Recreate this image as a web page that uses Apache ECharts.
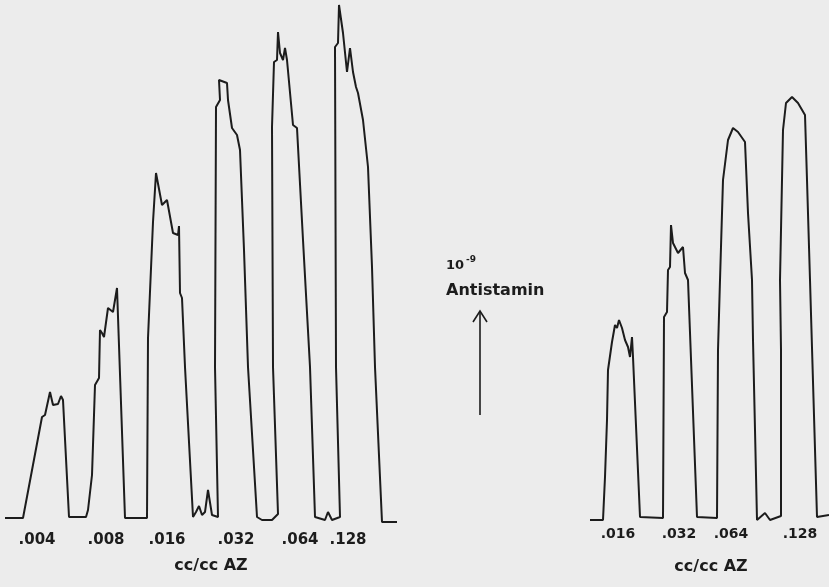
<!DOCTYPE html>
<html>
<head>
<meta charset="utf-8">
<script src="https://cdn.jsdelivr.net/npm/echarts@6/dist/echarts.min.js"></script>
<style>
html,body{margin:0;padding:0;background:#ececec;}
#main{width:829px;height:587px;}
</style>
</head>
<body>
<div id="main"></div>
<script>
// Trace recordings: [time, amplitude above baseline]
const leftTrace = [
 [5,2],[23,2],[42,103],[45,105],[50,128],[53,115],[58,116],[61,124],[63,120],[65,118],[69,3],
 [86,3],[88,10],[92,45],[95,135],[99,142],[100,190],[102,187],[104,183],[108,212],[113,208],[115,207],[117,232],[125,2],
 [147,2],[148,182],[153,298],[155,300],[156,347],[162,315],[167,320],[173,287],[178,285],[179,294],[180,227],[182,222],[185,153],[193,3],
 [196,8],[199,14],[202,5],[205,8],[208,30],[212,5],[218,3],
 [215,153],[216,413],[220,420],[219,440],[227,437],[228,420],[232,392],[237,385],[240,370],[244,270],[248,153],[257,3],
 [262,0],[272,0],[278,6],
 [273,153],[272,393],[274,458],[277,460],[278,488],[280,467],[283,460],[285,472],[287,460],[293,395],[297,392],[303,280],[310,153],[315,3],
 [325,0],[328,8],[332,0],[340,3],
 [336,153],[335,473],[338,477],[339,515],[343,487],[347,448],[350,472],[353,448],[356,433],[358,427],[363,400],[368,353],[372,253],[375,153],[382,-2],
 [397,-2]
];
const rightTrace = [
 [590,0],[603,0],[605,43],[607,100],[608,150],[612,178],[613,180],[615,195],[617,192],[619,200],[622,192],[625,180],[628,173],[630,163],[632,183],[633,163],[640,3],
 [663,2],[664,203],[667,208],[668,250],[670,253],[671,295],[673,277],[678,267],[683,273],[685,247],[688,240],[697,3],
 [717,2],[718,170],[720,240],[723,340],[728,380],[733,392],[738,388],[745,378],[748,307],[752,240],[753,180],[757,0],
 [765,7],[770,0],[781,4],
 [781,170],[780,240],[783,390],[786,417],[792,423],[798,417],[805,405],[807,340],[810,240],[817,3],[829,5]
];
// Concentration labels (cc/cc AZ)
const leftConc = ['.004', '.008', '.016', '.032', '.064', '.128'];
const leftConcT = [37, 106, 167, 236, 300, 348];
const rightConc = ['.016', '.032', '.064', '.128'];
const rightConcT = [618, 679, 731, 800];
const axisTitle = 'cc/cc AZ';
const drugLabel = 'Antistamin';

const ink = '#1c1c1c';
const labelFont = {color:ink, fontFamily:'DejaVu Sans', fontWeight:'bold'};
const textSeries = (data, size) => ({
  type:'scatter', symbolSize:0, silent:true, data,
  itemStyle:{opacity:1},
  label:{show:true, position:'inside', formatter:p=>p.name, ...labelFont, fontSize:size}
});

const chart = echarts.init(document.getElementById('main'), null, {renderer:'canvas'});
chart.setOption({
  backgroundColor:'#ececec',
  animation:false,
  grid:{left:0,right:0,top:0,bottom:0},
  xAxis:{type:'value',min:0,max:829,show:false},
  yAxis:{type:'value',min:-67,max:520,show:false},
  series:[
    {type:'line',data:leftTrace,showSymbol:false,lineStyle:{color:ink,width:2},z:3},
    {type:'line',data:rightTrace,showSymbol:false,lineStyle:{color:ink,width:2},z:3},
    textSeries(leftConc.map((t,i)=>({value:[leftConcT[i],-20],name:t})), 15),
    textSeries(rightConc.map((t,i)=>({value:[rightConcT[i],-14],name:t})), 14),
    textSeries([{value:[211,-46],name:axisTitle},{value:[711,-47],name:axisTitle}], 16)
  ],
  graphic:[
    {type:'text',left:446,top:255,style:{
      text:'{a|10}{b|-9}',
      rich:{a:{fontFamily:'DejaVu Sans',fontSize:13,fontWeight:'bold',fill:ink,verticalAlign:'bottom'},
            b:{fontFamily:'DejaVu Sans',fontSize:9,fontWeight:'bold',fill:ink,verticalAlign:'top',padding:[0,0,8,2]}}}},
    {type:'text',left:446,top:283,style:{text:drugLabel,fontFamily:'DejaVu Sans',fontSize:16,fontWeight:'bold',fill:ink}},
    {type:'line',shape:{x1:480,y1:415,x2:480,y2:311},style:{stroke:ink,lineWidth:1.6}},
    {type:'polyline',shape:{points:[[473,322],[480,311],[487,322]]},style:{stroke:ink,lineWidth:1.6,fill:null}}
  ]
});
</script>
</body>
</html>
